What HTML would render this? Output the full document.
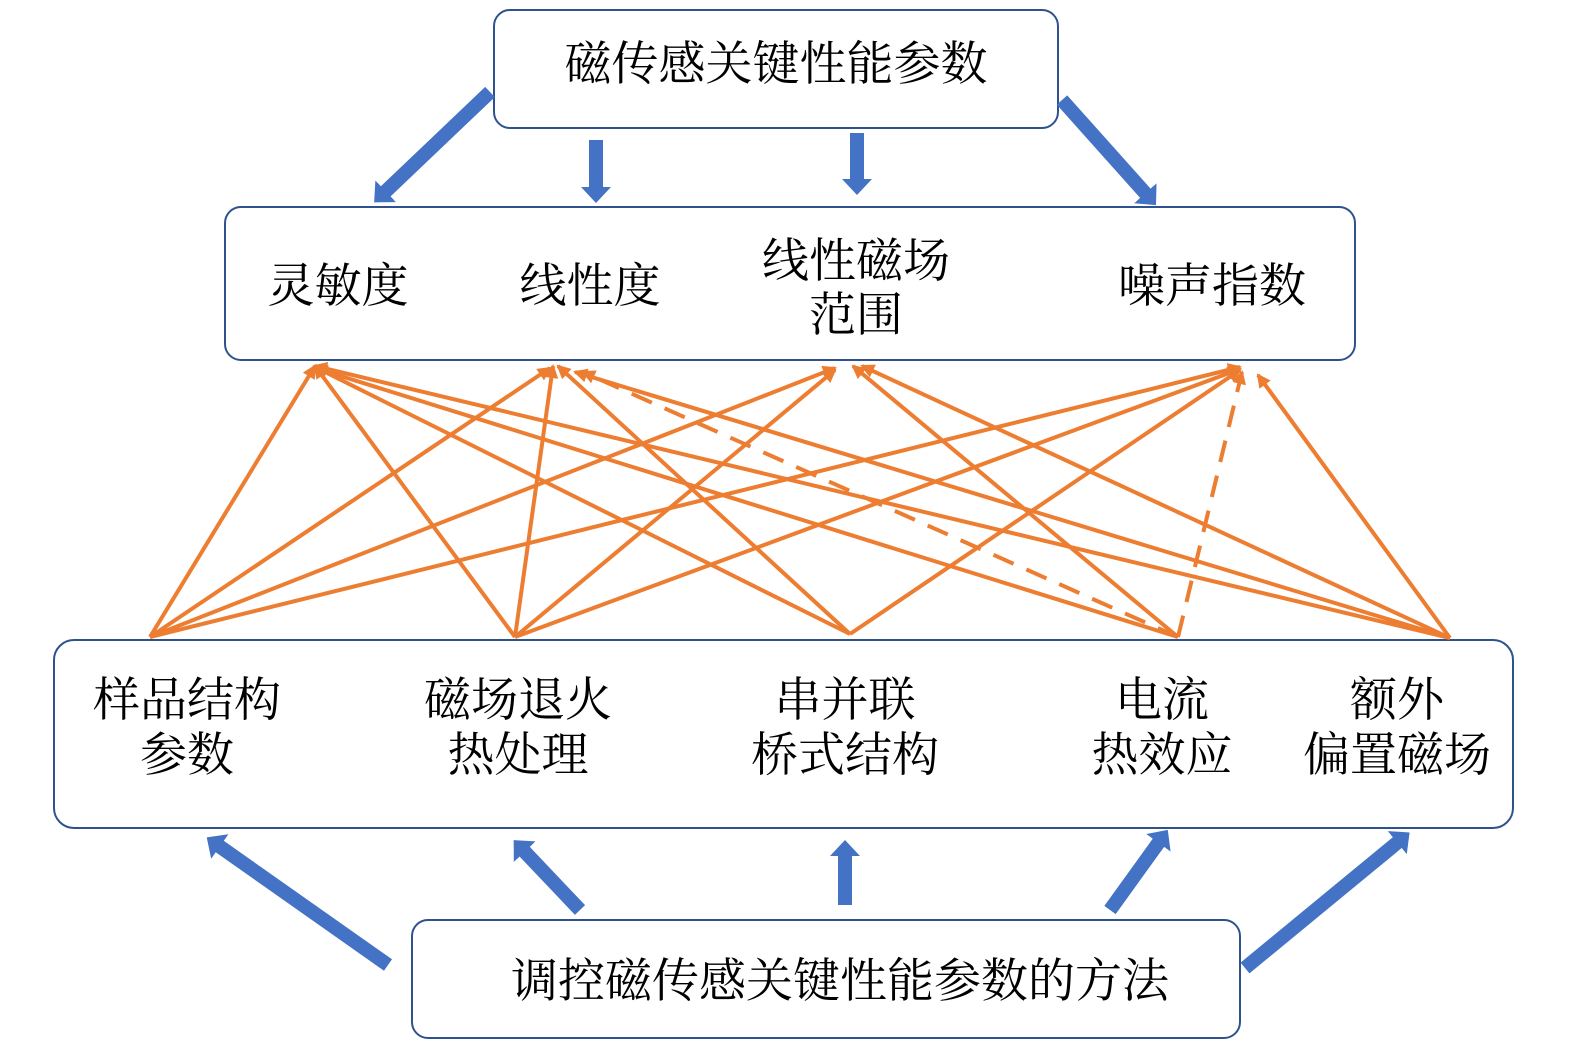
<!DOCTYPE html>
<html><head><meta charset="utf-8"><style>
html,body{margin:0;padding:0;background:#fff}
svg{display:block}
text{font-family:"Liberation Serif","Noto Serif CJK SC",serif;font-size:47px;fill:#000}
</style></head><body>
<svg width="1575" height="1053" viewBox="0 0 1575 1053" xmlns="http://www.w3.org/2000/svg">
<defs>
<marker id="bh" viewBox="0 0 16 30" markerWidth="16" markerHeight="30" refX="1" refY="15" orient="auto" markerUnits="userSpaceOnUse"><path d="M0,0 L16,15 L0,30 z" fill="#4472c4"/></marker>
<marker id="oh" viewBox="0 0 14 14" markerWidth="14" markerHeight="14" refX="12" refY="7" orient="auto" markerUnits="userSpaceOnUse"><path d="M0,0 L14,7 L0,14 z" fill="#ed7d31"/></marker>
</defs>
<g fill="#fff" stroke="#2f528f" stroke-width="2">
<rect x="494" y="10" width="564" height="118" rx="16"/>
<rect x="225" y="207" width="1130" height="153" rx="16"/>
<rect x="54" y="640" width="1459" height="188" rx="20"/>
<rect x="412" y="920" width="828" height="118" rx="16"/>
</g>
<g stroke="#4472c4" stroke-width="14" marker-end="url(#bh)">
<line x1="490" y1="92" x2="385" y2="192"/>
<line x1="596" y1="140" x2="596" y2="188"/>
<line x1="857" y1="133" x2="857" y2="180"/>
<line x1="1062" y1="100" x2="1146" y2="194"/>
<line x1="388" y1="965" x2="219" y2="846"/>
<line x1="580" y1="910" x2="524" y2="851"/>
<line x1="845" y1="905" x2="845" y2="855"/>
<line x1="1110" y1="910" x2="1159" y2="842"/>
<line x1="1245" y1="968" x2="1398" y2="842"/>
</g>
<g stroke="#ed7d31" stroke-width="4" marker-end="url(#oh)">
<line x1="150" y1="637" x2="315" y2="366"/>
<line x1="150" y1="637" x2="550" y2="368"/>
<line x1="150" y1="637" x2="835" y2="368"/>
<line x1="150" y1="637" x2="1240" y2="367"/>
<line x1="515" y1="637" x2="315" y2="366"/>
<line x1="515" y1="637" x2="553" y2="366"/>
<line x1="515" y1="637" x2="835" y2="370"/>
<line x1="515" y1="637" x2="1240" y2="369"/>
<line x1="850" y1="634" x2="315" y2="367"/>
<line x1="850" y1="634" x2="558" y2="366"/>
<line x1="850" y1="634" x2="1240" y2="370"/>
<line x1="1178" y1="637" x2="315" y2="368"/>
<line x1="1178" y1="637" x2="853" y2="366"/>
<line x1="1450" y1="638" x2="315" y2="366"/>
<line x1="1450" y1="638" x2="575" y2="372"/>
<line x1="1450" y1="638" x2="862" y2="366"/>
<line x1="1450" y1="638" x2="1258" y2="375"/>
<line x1="1178" y1="637" x2="583" y2="372" stroke-dasharray="22,14"/>
<line x1="1178" y1="637" x2="1242" y2="372" stroke-dasharray="22,14"/>
</g>
<g text-anchor="middle">
<text x="776" y="80">磁传感关键性能参数</text>
<text x="338" y="302">灵敏度</text>
<text x="590" y="302">线性度</text>
<text x="856" y="277">线性磁场</text>
<text x="856" y="331">范围</text>
<text x="1212" y="302">噪声指数</text>
<text x="187" y="716">样品结构</text>
<text x="187" y="771">参数</text>
<text x="518" y="716">磁场退火</text>
<text x="518" y="771">热处理</text>
<text x="845" y="716">串并联</text>
<text x="845" y="771">桥式结构</text>
<text x="1162" y="716">电流</text>
<text x="1162" y="771">热效应</text>
<text x="1397" y="716">额外</text>
<text x="1397" y="771">偏置磁场</text>
<text x="840" y="997">调控磁传感关键性能参数的方法</text>
</g>
</svg>
</body></html>
